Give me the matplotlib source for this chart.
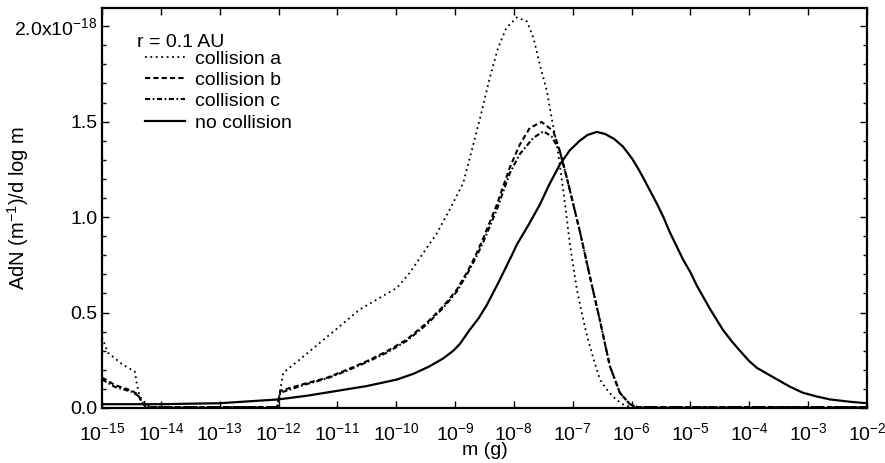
import matplotlib
matplotlib.use("Agg")
import matplotlib.pyplot as plt
from matplotlib.ticker import FixedLocator, FixedFormatter, MultipleLocator, NullLocator, LogLocator, LogFormatterMathtext
import numpy as np

plt.rcParams['font.family'] = ['Liberation Sans', 'DejaVu Sans']
plt.rcParams['mathtext.fontset'] = 'custom'
plt.rcParams['mathtext.rm'] = 'Liberation Sans'
plt.rcParams['mathtext.it'] = 'Liberation Sans:italic'
plt.rcParams['mathtext.bf'] = 'Liberation Sans:bold'

# ---- data: log10(m [g]) and AdN/dlog m in units of 1e-18 ----
logm_a = [-15.0, -14.9, -14.66, -14.44, -14.41, -14.36, -14.27, -14.18, -13.0, -12.02,
          -11.92, -11.64, -11.30, -10.96, -10.62, -10.28, -9.99, -9.77, -9.54, -9.31,
          -9.09, -8.86, -8.69, -8.55, -8.41, -8.27, -8.13, -7.95, -7.78, -7.67,
          -7.56, -7.44, -7.36, -7.27, -7.19, -7.13, -7.05, -6.93, -6.84, -6.76,
          -6.65, -6.54, -6.43, -6.32, -6.20, -6.10, -5.90, -2.0]
val_a = [0.37, 0.29, 0.23, 0.19, 0.13, 0.06, 0.03, 0.005, 0.005, 0.005,
         0.184, 0.254, 0.341, 0.428, 0.516, 0.577, 0.629, 0.708, 0.812, 0.915,
         1.04, 1.18, 1.38, 1.55, 1.73, 1.886, 1.99, 2.046, 2.025, 1.94,
         1.80, 1.66, 1.52, 1.38, 1.205, 1.065, 0.86, 0.62, 0.49, 0.38,
         0.26, 0.15, 0.10, 0.06, 0.03, 0.01, 0.005, 0.005]

logm_b = [-15.0, -14.78, -14.49, -14.39, -14.32, -14.25, -12.02, -11.97, -11.58, -11.18,
          -10.84, -10.50, -10.16, -9.82, -9.48, -9.20, -8.97, -8.78, -8.65, -8.52,
          -8.29, -8.07, -7.90, -7.73, -7.53, -7.33, -7.22, -7.10, -6.99, -6.88,
          -6.71, -6.54, -6.37, -6.20, -6.03, -5.90, -2.0]
val_b = [0.16, 0.12, 0.09, 0.07, 0.03, 0.005, 0.005, 0.09, 0.125, 0.158,
         0.20, 0.245, 0.297, 0.359, 0.446, 0.533, 0.62, 0.72, 0.80, 0.89,
         1.065, 1.26, 1.38, 1.467, 1.498, 1.45, 1.345, 1.205, 1.065, 0.926,
         0.69, 0.46, 0.22, 0.08, 0.02, 0.005, 0.005]

logm_c = [-15.0, -14.78, -14.49, -14.39, -14.32, -14.25, -12.02, -11.97, -11.58, -11.18,
          -10.84, -10.50, -10.16, -9.82, -9.48, -9.20, -8.97, -8.78, -8.65, -8.52,
          -8.29, -8.07, -7.90, -7.67, -7.50, -7.36, -7.22, -7.10, -6.99, -6.88,
          -6.71, -6.54, -6.37, -6.20, -6.03, -5.90, -2.0]
val_c = [0.15, 0.11, 0.085, 0.065, 0.03, 0.005, 0.005, 0.08, 0.12, 0.155,
         0.195, 0.24, 0.29, 0.352, 0.438, 0.525, 0.61, 0.71, 0.785, 0.87,
         1.04, 1.23, 1.33, 1.415, 1.449, 1.423, 1.345, 1.205, 1.065, 0.926,
         0.69, 0.46, 0.22, 0.08, 0.02, 0.005, 0.005]

logm_n = [-15.0, -14.0, -13.0, -12.5, -12.0, -11.5, -11.0, -10.5, -9.99, -9.70,
          -9.43, -9.20, -9.03, -8.92, -8.75, -8.60, -8.46, -8.25, -8.02, -7.95,
          -7.75, -7.56, -7.40, -7.22, -7.05, -6.88, -6.75, -6.59, -6.45, -6.30,
          -6.15, -6.00, -5.90, -5.81, -5.69, -5.57, -5.46, -5.35, -5.24, -5.13,
          -5.00, -4.89, -4.78, -4.67, -4.56, -4.45, -4.30, -4.16, -4.00, -3.87,
          -3.70, -3.53, -3.30, -3.09, -2.85, -2.63, -2.30, -2.0]
val_n = [0.02, 0.02, 0.025, 0.035, 0.045, 0.065, 0.09, 0.115, 0.149, 0.18,
         0.219, 0.26, 0.30, 0.335, 0.41, 0.47, 0.54, 0.665, 0.81, 0.856,
         0.96, 1.065, 1.17, 1.275, 1.35, 1.40, 1.43, 1.446, 1.435, 1.41,
         1.37, 1.31, 1.26, 1.21, 1.14, 1.07, 1.00, 0.92, 0.85, 0.78,
         0.71, 0.64, 0.58, 0.52, 0.465, 0.41, 0.35, 0.30, 0.245, 0.21,
         0.18, 0.15, 0.11, 0.08, 0.06, 0.045, 0.033, 0.025]

labels = ['collision a', 'collision b', 'collision c', 'no collision']
legend_title = 'r = 0.1 AU'
ytick_vals = [0.0, 0.5, 1.0, 1.5, 2.0]
ytick_labels = ['0.0', '0.5', '1.0', '1.5', '2.0x10$^{-18}$']

# ---- figure ----
fig = plt.figure(figsize=(8.85, 4.63), dpi=100)
ax = fig.add_axes([102/885, 1 - 408/463, (867-102)/885, (408-8)/463])

ax.plot(10**np.array(logm_a), val_a, color='black', lw=1.3, linestyle=(0, (1, 2)), label=labels[0])
ax.plot(10**np.array(logm_b), val_b, color='black', lw=1.5, linestyle=(0, (2.5, 1.5)), label=labels[1])
ax.plot(10**np.array(logm_c), val_c, color='black', lw=1.5, linestyle=(0, (2.5, 1.2, 0.8, 1.2)), label=labels[2])
ax.plot(10**np.array(logm_n), val_n, color='black', lw=1.6, linestyle='-', label=labels[3])

ax.set_xscale('log')
ax.set_xlim(1e-15, 1e-2)
ax.set_ylim(0, 2.095)

ax.xaxis.set_major_locator(LogLocator(base=10, numticks=20))
ax.xaxis.set_major_formatter(LogFormatterMathtext())
ax.xaxis.set_minor_locator(NullLocator())
ax.yaxis.set_major_locator(FixedLocator(ytick_vals))
ax.yaxis.set_major_formatter(FixedFormatter(ytick_labels))
ax.yaxis.set_minor_locator(MultipleLocator(0.1))

ax.tick_params(axis='both', which='both', direction='in', top=True, right=True, labelsize=14, width=1.0)
ax.tick_params(axis='both', which='major', length=5)
ax.tick_params(axis='y', which='minor', length=3)
ax.tick_params(axis='x', which='major', pad=10)
for s in ax.spines.values():
    s.set_linewidth(1.6)

ax.set_xlabel('m (g)', fontsize=14, labelpad=-1)
ax.set_ylabel('AdN (m$^{-1}$)/d log m', fontsize=14.5)
ax.yaxis.set_label_coords(-0.093, 0.5)

ax.text(0.0458, 0.9025, legend_title, transform=ax.transAxes, fontsize=14,
        ha='left', va='baseline')
leg = ax.legend(loc='upper left', bbox_to_anchor=(0.0562, 0.895), frameon=False,
                fontsize=14, handlelength=2.05, handletextpad=0.5, labelspacing=0.19,
                borderpad=0, borderaxespad=0)

fig.savefig('out.png', dpi=100)
